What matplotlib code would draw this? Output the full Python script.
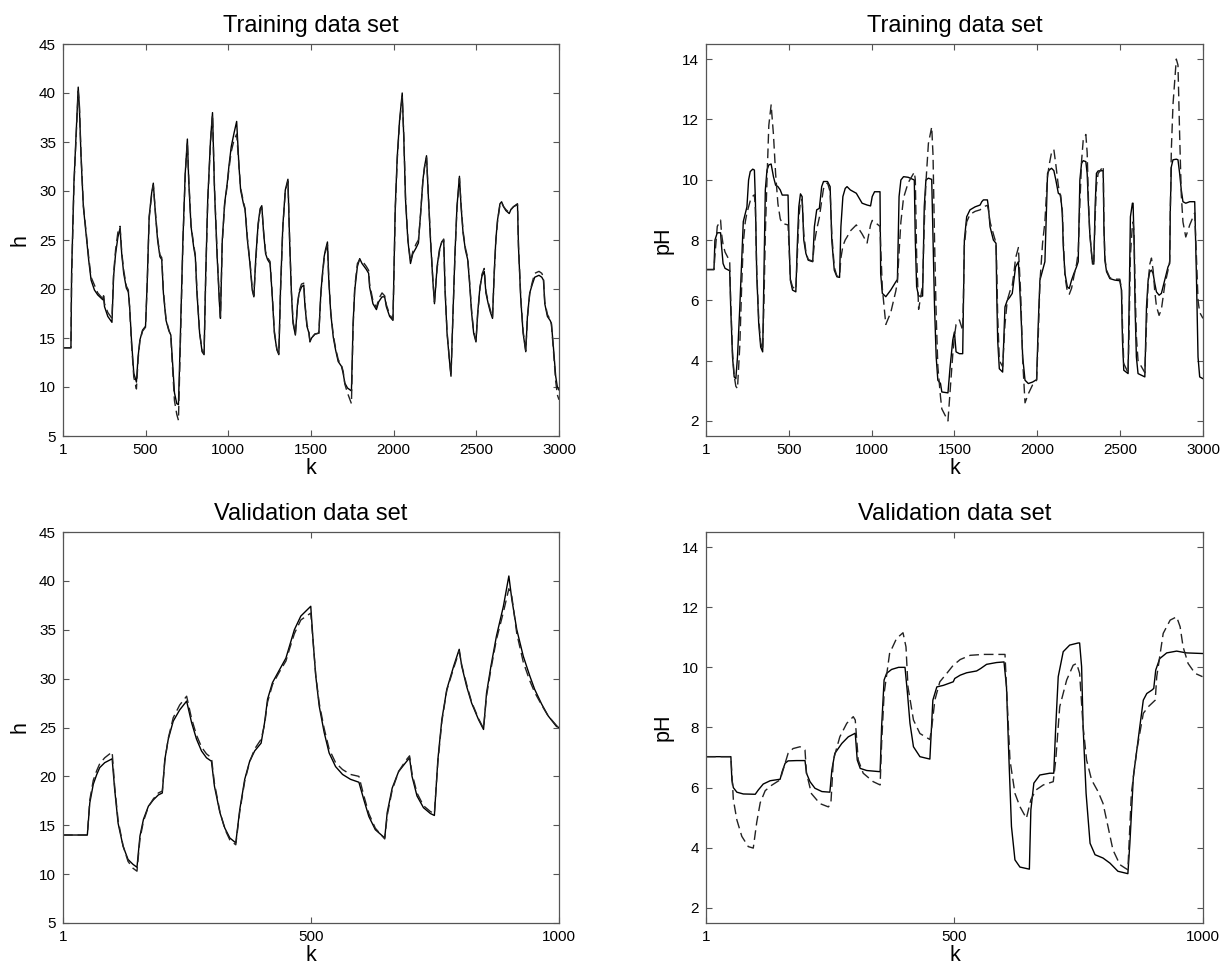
import matplotlib
matplotlib.use("Agg")
import matplotlib.pyplot as plt

plt.rcParams['font.family'] = ['Liberation Sans', 'DejaVu Sans']

# ---------------- Training data set, level h ----------------
h_train_k = [1, 49, 53, 67, 83, 93, 100, 110, 124, 140,
             156, 171, 191, 211, 242, 246, 252, 272, 297, 307,
             319, 333, 346, 356, 368, 384, 396, 404, 415, 429,
             445, 455, 466, 482, 500, 510, 522, 537, 547, 561,
             573, 587, 598, 608, 624, 640, 653, 661, 675, 689,
             699, 710, 726, 740, 753, 761, 775, 791, 801, 811,
             827, 842, 854, 864, 876, 893, 905, 917, 933, 947,
             953, 964, 978, 994, 1004, 1018, 1035, 1051, 1065, 1075,
             1092, 1102, 1116, 1133, 1145, 1155, 1167, 1181, 1193, 1203,
             1214, 1226, 1238, 1253, 1265, 1279, 1294, 1306, 1316, 1330,
             1345, 1361, 1371, 1382, 1392, 1406, 1419, 1429, 1443, 1457,
             1463, 1476, 1488, 1494, 1504, 1524, 1548, 1560, 1570, 1580,
             1588, 1600, 1608, 1620, 1635, 1649, 1665, 1685, 1695, 1705,
             1721, 1745, 1755, 1765, 1781, 1795, 1809, 1835, 1849, 1855,
             1875, 1896, 1910, 1930, 1946, 1956, 1976, 1996, 2002, 2010,
             2022, 2036, 2052, 2062, 2072, 2086, 2102, 2116, 2136, 2150,
             2163, 2177, 2187, 2199, 2211, 2223, 2237, 2247, 2263, 2277,
             2291, 2303, 2311, 2323, 2337, 2347, 2357, 2371, 2383, 2398,
             2408, 2420, 2434, 2448, 2458, 2472, 2484, 2498, 2508, 2522,
             2534, 2548, 2558, 2572, 2584, 2598, 2608, 2618, 2628, 2643,
             2653, 2665, 2679, 2699, 2709, 2725, 2749, 2755, 2769, 2783,
             2799, 2809, 2823, 2837, 2853, 2879, 2896, 2906, 2914, 2930,
             2946, 2954, 2966, 2980, 2990, 3000]
h_train_meas = [14.0, 14.0, 21.6, 30.8, 36.9, 40.6, 38.6, 33.5, 28.4, 25.7,
                23.0, 20.9, 19.9, 19.4, 18.9, 19.3, 18.2, 17.2, 16.6, 21.3,
                23.6, 25.3, 26.2, 23.6, 21.6, 20.1, 19.7, 18.2, 14.8, 11.4,
                10.5, 13.1, 14.8, 15.8, 16.2, 20.6, 27.4, 29.8, 30.8, 27.4,
                25.0, 23.3, 23.0, 19.6, 16.8, 15.8, 15.3, 13.1, 9.4, 8.3,
                8.2, 14.8, 25.0, 31.8, 35.3, 31.1, 26.4, 24.3, 23.3, 19.6,
                15.5, 13.6, 13.3, 21.6, 29.1, 35.2, 38.0, 30.1, 23.3, 18.5,
                17.0, 25.0, 28.7, 30.8, 32.5, 34.5, 35.9, 37.1, 32.5, 30.1,
                28.7, 28.1, 25.0, 22.3, 19.9, 19.2, 23.3, 26.7, 28.2, 28.5,
                25.7, 23.6, 23.0, 22.6, 19.6, 15.5, 13.8, 13.3, 19.9, 26.4,
                30.1, 31.2, 25.0, 19.6, 16.5, 15.3, 18.5, 19.6, 20.2, 20.4,
                18.5, 16.2, 15.5, 14.6, 15.0, 15.4, 15.5, 19.6, 21.6, 23.3,
                24.0, 24.8, 20.9, 17.5, 15.1, 13.8, 12.6, 12.1, 11.4, 10.4,
                9.9, 9.6, 16.5, 19.9, 22.3, 23.1, 22.6, 22.0, 21.6, 20.2,
                18.5, 17.9, 18.7, 19.2, 19.2, 18.2, 17.2, 16.8, 21.6, 28.4,
                33.5, 37.2, 40.0, 35.2, 29.1, 25.0, 22.6, 23.6, 24.2, 24.7,
                27.7, 31.1, 32.5, 33.6, 29.1, 25.0, 20.9, 18.5, 22.3, 24.0,
                24.8, 25.0, 19.9, 15.5, 12.8, 11.1, 16.5, 23.6, 28.4, 31.5,
                28.4, 25.7, 24.0, 23.0, 20.9, 17.5, 15.5, 14.6, 17.5, 20.2,
                21.3, 21.8, 19.6, 18.5, 17.7, 17.0, 21.6, 25.0, 27.0, 28.7,
                28.9, 28.4, 28.0, 27.7, 28.1, 28.4, 28.7, 24.3, 18.9, 15.5,
                13.6, 17.2, 19.6, 20.4, 21.2, 21.4, 21.2, 20.9, 18.5, 17.2,
                16.8, 16.5, 14.1, 11.1, 10.0, 9.7]
h_train_model = [14.0, 14.0, 21.0, 30.5, 36.5, 40.2, 38.8, 33.8, 28.6, 25.9,
                 23.3, 21.2, 20.4, 19.6, 19.0, 19.4, 18.5, 17.6, 17.0, 21.6,
                 24.0, 25.8, 26.4, 23.8, 21.9, 20.3, 19.9, 18.0, 14.5, 11.0,
                 9.8, 12.8, 14.7, 15.7, 16.1, 20.4, 27.2, 29.6, 30.6, 27.6,
                 25.2, 23.5, 23.2, 19.8, 16.9, 15.9, 15.1, 12.6, 8.6, 7.2,
                 6.6, 14.0, 24.6, 31.6, 35.0, 31.4, 26.6, 24.5, 23.5, 19.8,
                 15.6, 13.7, 13.4, 21.2, 28.8, 35.0, 37.8, 30.4, 23.6, 18.8,
                 17.2, 24.6, 28.5, 30.6, 32.2, 34.0, 35.2, 35.8, 32.6, 30.3,
                 28.9, 28.2, 25.2, 22.5, 20.1, 19.3, 23.0, 26.5, 28.0, 28.3,
                 25.9, 23.8, 23.2, 22.8, 19.8, 15.7, 13.9, 13.4, 19.6, 26.2,
                 29.9, 31.0, 25.3, 19.8, 16.7, 15.4, 18.3, 19.8, 20.5, 20.6,
                 18.7, 16.4, 15.6, 14.7, 15.0, 15.4, 15.5, 19.4, 21.4, 23.1,
                 23.8, 24.5, 21.1, 17.7, 15.3, 14.0, 12.8, 12.2, 11.6, 10.3,
                 9.4, 8.3, 16.0, 20.2, 22.6, 23.0, 22.9, 22.3, 21.9, 20.5,
                 18.8, 18.1, 19.0, 19.6, 19.3, 18.4, 17.4, 16.9, 21.2, 28.0,
                 33.2, 37.0, 39.6, 35.5, 29.4, 25.2, 22.8, 23.8, 24.6, 25.0,
                 27.6, 31.0, 32.4, 33.4, 29.3, 25.2, 21.1, 18.7, 22.1, 23.8,
                 24.8, 25.1, 20.1, 15.7, 12.9, 11.2, 16.3, 23.4, 28.2, 31.3,
                 28.6, 25.9, 24.2, 23.2, 21.1, 17.7, 15.7, 14.7, 17.3, 20.0,
                 21.5, 22.1, 19.8, 18.7, 17.9, 17.1, 21.4, 24.8, 26.8, 28.6,
                 28.8, 28.4, 28.1, 27.8, 28.1, 28.4, 28.6, 24.5, 19.1, 15.7,
                 13.7, 17.0, 19.5, 20.6, 21.6, 21.8, 21.6, 21.2, 18.7, 17.4,
                 16.9, 16.4, 13.8, 10.6, 9.2, 8.7]

# ---------------- Training data set, pH ----------------
ph_train_k = [1, 49, 55, 69, 89, 95, 104, 116, 144, 150,
              161, 171, 181, 191, 205, 217, 226, 238, 248, 258,
              268, 283, 293, 299, 307, 319, 331, 343, 351, 359,
              369, 380, 394, 408, 421, 435, 449, 461, 496, 502,
              510, 523, 543, 553, 561, 571, 581, 591, 604, 618,
              645, 655, 669, 685, 699, 710, 734, 750, 760, 775,
              791, 807, 815, 827, 841, 852, 872, 908, 943, 973,
              994, 1004, 1018, 1051, 1055, 1065, 1086, 1116, 1146, 1156,
              1166, 1177, 1193, 1221, 1258, 1264, 1272, 1284, 1308, 1318,
              1328, 1343, 1363, 1371, 1380, 1390, 1400, 1416, 1424, 1461,
              1474, 1490, 1500, 1510, 1530, 1550, 1554, 1560, 1574, 1594,
              1625, 1655, 1665, 1675, 1699, 1705, 1715, 1735, 1751, 1755,
              1761, 1771, 1791, 1805, 1819, 1835, 1849, 1859, 1869, 1886,
              1900, 1912, 1926, 1946, 1972, 1996, 2006, 2016, 2032, 2046,
              2056, 2062, 2072, 2086, 2100, 2112, 2127, 2141, 2151, 2157,
              2167, 2181, 2193, 2207, 2221, 2237, 2247, 2257, 2267, 2277,
              2293, 2301, 2309, 2317, 2333, 2341, 2349, 2357, 2367, 2398,
              2402, 2408, 2418, 2438, 2468, 2498, 2508, 2514, 2522, 2548,
              2554, 2562, 2574, 2578, 2584, 2590, 2598, 2608, 2649, 2659,
              2669, 2679, 2689, 2699, 2709, 2719, 2735, 2749, 2769, 2789,
              2799, 2803, 2809, 2819, 2839, 2849, 2859, 2869, 2879, 2896,
              2920, 2950, 2960, 2970, 2980, 3000]
ph_train_meas = [7.02, 7.02, 8.0, 8.24, 8.24, 7.78, 7.22, 7.06, 6.98, 5.78,
                 4.12, 3.46, 3.40, 4.12, 5.78, 7.44, 8.61, 8.88, 9.1, 9.99,
                 10.27, 10.35, 10.32, 9.33, 6.89, 5.23, 4.45, 4.29, 6.89, 9.66,
                 10.32, 10.49, 10.52, 10.1, 9.82, 9.77, 9.66, 9.49, 9.49, 8.0,
                 6.67, 6.34, 6.28, 8.0, 9.1, 9.53, 9.44, 8.0, 7.55, 7.33,
                 7.28, 8.44, 9.0, 9.05, 9.77, 9.94, 9.94, 9.77, 8.0, 7.0,
                 6.78, 6.76, 8.44, 9.44, 9.71, 9.77, 9.66, 9.55, 9.22, 9.16,
                 9.13, 9.44, 9.6, 9.6, 6.89, 6.23, 6.12, 6.34, 6.61, 6.69,
                 9.44, 9.99, 10.1, 10.08, 9.99, 8.0, 6.45, 6.14, 6.14, 9.1,
                 9.99, 10.05, 10.01, 8.0, 5.78, 4.12, 3.35, 3.24, 2.96, 2.93,
                 3.79, 4.68, 4.95, 4.29, 4.23, 4.23, 5.78, 8.0, 8.77, 9.0,
                 9.1, 9.16, 9.27, 9.33, 9.33, 9.1, 8.44, 8.0, 7.89, 6.34,
                 4.68, 3.73, 3.62, 5.78, 6.0, 6.11, 6.23, 6.67, 7.11, 7.28,
                 5.78, 4.12, 3.35, 3.24, 3.29, 3.37, 5.23, 6.67, 7.0, 7.28,
                 9.1, 10.21, 10.32, 10.38, 10.3, 9.99, 9.55, 9.49, 8.88, 7.78,
                 6.89, 6.45, 6.39, 6.67, 6.89, 7.11, 7.28, 9.99, 10.54, 10.63,
                 10.6, 10.21, 9.1, 8.22, 7.22, 7.2, 9.1, 10.21, 10.29, 10.3,
                 8.44, 7.33, 6.95, 6.72, 6.67, 6.65, 6.34, 4.68, 3.68, 3.57,
                 5.78, 8.77, 9.22, 9.22, 8.0, 5.78, 4.12, 3.57, 3.46, 5.78,
                 6.67, 6.95, 7.0, 6.89, 6.56, 6.28, 6.17, 6.23, 6.67, 7.11,
                 7.22, 9.1, 10.43, 10.66, 10.68, 10.66, 10.21, 9.66, 9.27, 9.22,
                 9.27, 9.27, 6.89, 4.12, 3.46, 3.4]
ph_train_model = [7.02, 7.02, 7.5, 8.45, 8.66, 8.2, 7.85, 7.6, 7.3, 6.0,
                  4.3, 3.5, 3.15, 3.07, 4.5, 6.6, 7.9, 8.6, 8.9, 9.1,
                  9.3, 9.45, 9.5, 9.0, 7.0, 5.4, 4.6, 4.35, 6.0, 8.2,
                  10.0, 11.8, 12.48, 11.5, 10.2, 9.2, 8.7, 8.55, 8.5, 7.8,
                  6.7, 6.45, 6.35, 7.6, 8.7, 9.3, 9.35, 8.2, 7.6, 7.35,
                  7.3, 7.9, 8.35, 8.75, 9.3, 9.7, 9.9, 9.6, 8.2, 7.1,
                  6.8, 6.8, 7.4, 7.8, 8.0, 8.1, 8.3, 8.5, 8.2, 7.9,
                  8.5, 8.65, 8.6, 8.45, 7.8, 6.4, 5.2, 5.6, 6.3, 6.6,
                  7.6, 8.6, 9.4, 9.9, 10.25, 10.0, 7.5, 5.7, 6.5, 8.5,
                  9.9, 11.2, 11.75, 10.8, 8.0, 5.5, 3.8, 2.8, 2.4, 2.0,
                  3.0, 4.2, 4.8, 5.2, 5.35, 5.0, 6.0, 7.8, 8.6, 8.85,
                  8.95, 9.0, 9.05, 9.1, 9.15, 9.0, 8.6, 8.2, 7.9, 7.2,
                  5.5, 4.0, 3.8, 5.2, 6.0, 6.3, 6.5, 6.9, 7.4, 7.75,
                  6.2, 4.0, 2.6, 2.9, 3.2, 3.35, 4.8, 6.6, 7.9, 8.6,
                  9.6, 10.1, 10.5, 10.9, 11.0, 10.5, 9.8, 9.4, 9.0, 8.0,
                  6.8, 6.3, 6.2, 6.4, 6.8, 7.2, 7.6, 9.2, 10.6, 11.3,
                  11.5, 10.9, 9.3, 8.2, 7.2, 7.3, 8.7, 9.8, 10.2, 10.45,
                  8.6, 7.4, 7.0, 6.75, 6.7, 6.7, 6.4, 5.2, 3.9, 3.6,
                  5.0, 7.5, 8.5, 8.6, 8.2, 6.5, 4.8, 4.0, 3.6, 5.2,
                  6.6, 7.2, 7.4, 7.0, 6.3, 5.8, 5.5, 5.7, 6.5, 7.0,
                  7.3, 9.0, 11.0, 12.5, 14.0, 13.8, 11.5, 9.5, 8.6, 8.1,
                  8.5, 8.9, 7.5, 6.0, 5.6, 5.4]

# ---------------- Validation data set, level h ----------------
h_val_k = [1, 50, 55, 62, 69, 75, 85, 100, 105, 112,
           122, 132, 142, 150, 156, 163, 173, 183, 193, 201,
           206, 213, 223, 236, 250, 260, 270, 280, 290, 300,
           306, 317, 327, 337, 349, 357, 367, 377, 387, 400,
           407, 413, 423, 437, 450, 457, 467, 480, 497, 500,
           505, 510, 517, 527, 537, 550, 564, 580, 597, 607,
           617, 630, 649, 654, 664, 677, 691, 699, 704, 714,
           727, 741, 749, 756, 764, 774, 788, 799, 804, 814,
           824, 838, 848, 854, 863, 874, 888, 899, 905, 915,
           928, 941, 951, 965, 978, 995, 1000]
h_val_meas = [14.0, 14.0, 17.3, 19.2, 20.2, 20.9, 21.4, 21.8, 18.7, 15.2,
              12.85, 11.5, 11.0, 10.7, 13.9, 15.6, 16.95, 17.6, 18.1, 18.3,
              21.7, 23.8, 25.65, 26.8, 27.7, 25.5, 23.8, 22.6, 21.9, 21.55,
              19.0, 16.3, 14.7, 13.7, 13.2, 16.6, 19.7, 21.55, 22.6, 23.4,
              25.5, 27.9, 29.6, 30.9, 32.1, 33.3, 35.0, 36.4, 37.25, 37.4,
              33.7, 30.3, 27.2, 24.5, 22.4, 21.0, 20.2, 19.7, 19.4, 17.6,
              15.9, 14.55, 13.7, 16.3, 18.8, 20.5, 21.4, 21.9, 20.0, 18.0,
              16.8, 16.2, 16.0, 21.7, 25.8, 28.9, 31.3, 33.0, 31.3, 29.2,
              27.5, 25.8, 24.8, 28.5, 31.3, 34.35, 37.4, 40.5, 38.1, 35.0,
              32.3, 30.3, 28.9, 27.4, 26.2, 25.1, 25.0]
h_val_model = [14.0, 14.0, 17.6, 19.6, 20.6, 21.3, 21.9, 22.5, 19.0, 15.5,
               12.9, 11.3, 10.6, 10.3, 13.6, 15.4, 16.9, 17.7, 18.3, 18.5,
               21.5, 23.9, 26.0, 27.3, 28.2, 25.9, 24.2, 23.0, 22.3, 21.9,
               19.3, 16.4, 14.6, 13.5, 13.0, 16.4, 19.5, 21.5, 22.8, 23.8,
               25.3, 27.6, 29.4, 30.7, 31.8, 33.0, 34.6, 36.0, 36.6, 36.7,
               33.6, 30.4, 27.5, 24.9, 22.8, 21.4, 20.7, 20.2, 20.0, 18.0,
               16.2, 14.7, 13.6, 16.0, 18.6, 20.5, 21.6, 22.1, 20.3, 18.3,
               17.0, 16.4, 16.2, 21.4, 25.6, 28.8, 31.1, 32.8, 31.4, 29.4,
               27.6, 25.9, 24.9, 28.2, 31.0, 34.0, 36.8, 39.2, 38.4, 34.6,
               31.7, 29.8, 28.6, 27.3, 26.2, 25.2, 25.0]

# ---------------- Validation data set, pH ----------------
ph_val_k = [1, 51, 53, 56, 63, 76, 100, 106, 116, 130,
            150, 154, 160, 166, 183, 200, 203, 210, 220, 234,
            250, 254, 260, 274, 287, 301, 305, 311, 324, 351,
            354, 359, 364, 374, 388, 401, 406, 411, 418, 431,
            451, 457, 465, 478, 498, 501, 512, 525, 545, 553,
            565, 585, 600, 605, 610, 615, 622, 632, 651, 654,
            660, 672, 692, 700, 704, 709, 719, 732, 749, 752,
            756, 759, 765, 773, 783, 799, 813, 829, 849, 853,
            860, 867, 873, 880, 887, 897, 901, 905, 913, 927,
            947, 967, 999]
ph_val_meas = [7.03, 7.03, 6.26, 6.0, 5.85, 5.79, 5.78, 5.92, 6.12, 6.23,
               6.28, 6.53, 6.81, 6.89, 6.9, 6.9, 6.48, 6.2, 5.98, 5.87,
               5.85, 6.59, 7.14, 7.47, 7.69, 7.81, 6.92, 6.64, 6.57, 6.53,
               8.03, 9.58, 9.8, 9.93, 10.0, 10.0, 9.13, 8.14, 7.36, 7.03,
               6.95, 8.91, 9.35, 9.4, 9.52, 9.63, 9.74, 9.82, 9.88, 9.96,
               10.1, 10.16, 10.18, 9.35, 6.92, 4.71, 3.6, 3.36, 3.29, 5.26,
               6.15, 6.42, 6.48, 6.48, 8.03, 9.69, 10.52, 10.74, 10.81, 10.81,
               10.02, 8.03, 5.81, 4.15, 3.77, 3.66, 3.49, 3.22, 3.14, 4.15,
               6.37, 7.25, 8.03, 8.91, 9.13, 9.24, 9.3, 9.91, 10.29, 10.48,
               10.54, 10.48, 10.46]
ph_val_model_k = [1, 51, 56, 63, 73, 86, 96, 103, 110, 120,
                  133, 150, 156, 166, 176, 190, 200, 203, 213, 230,
                  247, 252, 257, 270, 284, 297, 301, 307, 317, 337,
                  351, 354, 359, 370, 384, 397, 403, 407, 418, 431,
                  451, 455, 461, 471, 485, 498, 512, 532, 558, 585,
                  602, 605, 612, 622, 632, 645, 654, 664, 679, 699,
                  704, 712, 726, 739, 746, 752, 759, 766, 776, 789,
                  799, 809, 819, 833, 843, 849, 856, 867, 880, 890,
                  904, 907, 920, 934, 947, 954, 960, 970, 984, 999]
ph_val_model = [7.03, 7.03, 5.6, 4.93, 4.38, 4.04, 3.99, 4.85, 5.5, 5.9,
                6.08, 6.26, 6.59, 7.14, 7.3, 7.36, 7.25, 6.48, 5.8, 5.47,
                5.36, 5.47, 6.92, 7.69, 8.14, 8.36, 8.25, 6.92, 6.48, 6.2,
                6.09, 7.47, 9.13, 10.46, 10.96, 11.15, 10.68, 9.35, 8.25, 7.8,
                7.6, 8.03, 8.91, 9.52, 9.8, 10.07, 10.26, 10.4, 10.43, 10.43,
                10.43, 9.35, 6.92, 5.81, 5.37, 4.98, 5.6, 5.92, 6.09, 6.2,
                6.92, 8.69, 9.58, 10.07, 10.13, 9.8, 8.03, 6.92, 6.26, 5.87,
                5.48, 4.71, 3.93, 3.44, 3.33, 3.27, 5.81, 7.25, 8.47, 8.69,
                8.91, 9.69, 11.13, 11.57, 11.68, 11.35, 10.68, 10.13, 9.8, 9.69]

train_xticks = [1, 500, 1000, 1500, 2000, 2500, 3000]
val_xticks = [1, 500, 1000]
h_yticks = [5, 10, 15, 20, 25, 30, 35, 40, 45]
ph_yticks = [2, 4, 6, 8, 10, 12, 14]

W, H = 1223, 968
fig = plt.figure(figsize=(W / 100, H / 100), dpi=100)

def box(x0, y0, x1, y1):
    return [x0 / W, 1 - y1 / H, (x1 - x0) / W, (y1 - y0) / H]

axes_spec = [
    (box(63, 44, 559, 436), 'Training data set', 'h',
     (h_train_k, h_train_meas), (h_train_k, h_train_model),
     (1, 3000), train_xticks, (5, 45), h_yticks),
    (box(706, 44, 1203, 436), 'Training data set', 'pH',
     (ph_train_k, ph_train_meas), (ph_train_k, ph_train_model),
     (1, 3000), train_xticks, (1.5, 14.5), ph_yticks),
    (box(63, 532, 559, 923), 'Validation data set', 'h',
     (h_val_k, h_val_meas), (h_val_k, h_val_model),
     (1, 1000), val_xticks, (5, 45), h_yticks),
    (box(706, 532, 1203, 923), 'Validation data set', 'pH',
     (ph_val_k, ph_val_meas), (ph_val_model_k, ph_val_model),
     (1, 1000), val_xticks, (1.5, 14.5), ph_yticks),
]

for rect, title, ylab, solid, dashed, xlim, xt, ylim, yt in axes_spec:
    ax = fig.add_axes(rect)
    ax.plot(solid[0], solid[1], color='black', lw=1.0, linestyle='-')
    ax.plot(dashed[0], dashed[1], color='#222222', lw=1.0,
            linestyle=(0, (7, 3.5)))
    ax.set_xlim(*xlim)
    ax.set_ylim(*ylim)
    ax.set_xticks(xt)
    ax.set_yticks(yt)
    ax.tick_params(direction='in', top=True, right=True, length=4,
                   width=0.8, color='#555555', labelsize=11, pad=5)
    for sp in ax.spines.values():
        sp.set_color('#555555')
        sp.set_linewidth(0.9)
    ax.set_title(title, fontsize=17, pad=8.5)
    ax.set_xlabel('k', fontsize=15.5, labelpad=1)
    ax.set_ylabel(ylab, fontsize=15.5, labelpad=6)

fig.savefig('out.png', dpi=100)
